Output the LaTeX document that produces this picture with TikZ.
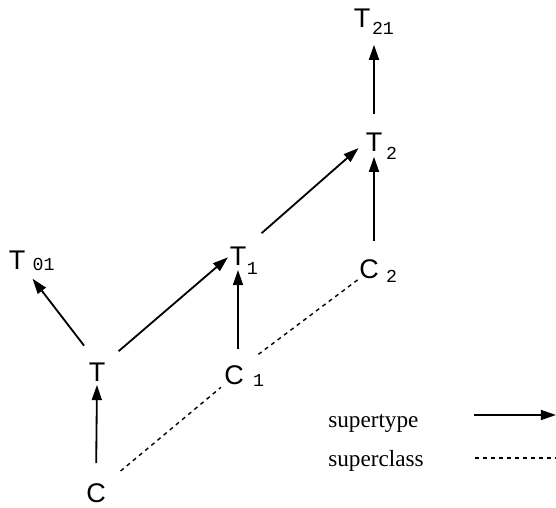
\documentclass[tikz,border=0pt]{standalone}
\usepackage{fontspec}
\setmainfont{Liberation Serif}
\newfontfamily\lblfont{Liberation Sans}
\newfontfamily\idxfont{Liberation Mono}
\usetikzlibrary{arrows.meta}

\begin{document}
\begin{tikzpicture}[
    typelbl/.style={font=\lblfont\fontsize{19.2}{22}\selectfont, inner sep=0pt},
    subidx/.style={font=\idxfont\fontsize{13}{15}\selectfont, inner sep=0pt, anchor=base west},
    legendtxt/.style={font=\fontsize{16.5}{19}\selectfont, inner sep=0pt, anchor=base west},
    supertype/.style={draw=black, line width=1.3pt, -{Triangle[length=3.8mm, width=2.5mm]}},
    superclass/.style={draw=black, line width=1pt, dash pattern=on 1mm off 1mm}
]

\useasboundingbox (0,0) rectangle (13.9,-12.7);

% types and classes
\node[typelbl] (T01) at (0.425,-6.5) {T};
\node[typelbl] (T) at (2.425,-9.3) {T};
\node[typelbl] (C) at (2.4,-12.325) {C};
\node[typelbl] (T1) at (5.95,-6.4) {T};
\node[typelbl] (C1) at (5.85,-9.375) {C};
\node[typelbl] (C2) at (9.225,-6.725) {C};
\node[typelbl] (T2) at (9.35,-3.55) {T};
\node[typelbl] (T21) at (9.05,-0.45) {T};

% indices
\node[subidx] (T01sub) at ([xshift=1.7mm,yshift=-0.25mm]T01.base east) {01};
\node[subidx] (T21sub) at ([xshift=0.3mm,yshift=-1.75mm]T21.base east) {21};
\node[subidx] (T1sub) at ([xshift=0mm,yshift=-2.25mm]T1.base east) {1};
\node[subidx] (T2sub) at ([xshift=0.8mm,yshift=-2mm]T2.base east) {2};
\node[subidx] (C1sub) at ([xshift=2.2mm,yshift=-0.5mm]C1.base east) {1};
\node[subidx] (C2sub) at ([xshift=1.7mm,yshift=-1mm]C2.base east) {2};

% supertype links
\draw[supertype, shorten <=5mm, shorten >=0.85mm] (C.north) -- (T.south);
\draw[supertype, shorten <=5.3mm, shorten >=2.9mm] (T.north) -- (T01.south east);
\draw[supertype, shorten <=4.3mm, shorten >=0.5mm] (T.north east) -- (T1.west);
\draw[supertype, shorten <=4mm, shorten >=1.1mm] (C1.north -| T1.south) -- (T1.south);
\draw[supertype, shorten <=5mm, shorten >=2.3mm] (T1.north east) -- (T2.west);
\draw[supertype, shorten <=4.6mm, shorten >=1.3mm] (C2.north -| T2.south) -- (T2.south);
\draw[supertype, shorten <=4.6mm, shorten >=4.3mm] (T2.north) -- (T2.north |- T21.south);

% superclass links
\draw[superclass, shorten <=4.75mm, shorten >=1mm] (C.north east) -- (C1.south west);
\draw[superclass, shorten <=4.5mm, shorten >=0.3mm] (C1.north east) -- (C2.south west);

% legend
\node[legendtxt] (stlbl) at (8.2,-10.675) {supertype};
\node[legendtxt] (sclbl) at (8.2,-11.65) {superclass};
\coordinate (stA) at (11.85,-10.375);
\coordinate (stB) at (13.9,-10.375);
\coordinate (scA) at (11.875,-11.45);
\coordinate (scB) at (13.9,-11.45);
\draw[supertype] (stA) -- (stB);
\draw[superclass] (scA) -- (scB);

\end{tikzpicture}
\end{document}
